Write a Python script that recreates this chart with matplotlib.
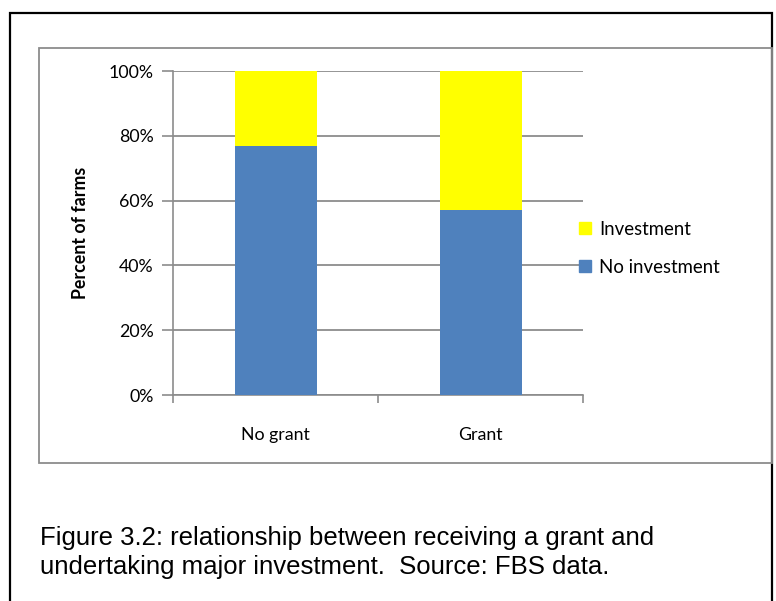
import matplotlib
matplotlib.use("Agg")
import matplotlib.pyplot as plt
from matplotlib.patches import Rectangle, Patch

categories = ["No grant", "Grant"]
no_investment = [0.77, 0.57]
investment = [0.23, 0.43]
yticks = [0, 0.2, 0.4, 0.6, 0.8, 1.0]
ytick_labels = ["0%", "20%", "40%", "60%", "80%", "100%"]

W, H = 776, 601
fig = plt.figure(figsize=(W / 100, H / 100), dpi=100)

def fx(px):
    return px / W

def fy(py):
    return 1 - py / H

# outer black border and inner chart border
fig.add_artist(Rectangle((fx(10), fy(620)), fx(772) - fx(10), fy(13) - fy(620),
                         transform=fig.transFigure, fill=False, edgecolor="black", lw=1.6))
fig.add_artist(Rectangle((fx(39), fy(463)), fx(772) - fx(39), fy(48) - fy(463),
                         transform=fig.transFigure, fill=False, edgecolor="#8c8c8c", lw=1.3))

ax = fig.add_axes([fx(173), fy(395), fx(583) - fx(173), fy(71) - fy(395)])
font = "Lato"
fs = 12.8
grid_c = "#8c8c8c"

x = range(len(categories))
ax.bar(x, no_investment, width=0.4, color="#4F81BD", zorder=3, label="No investment")
ax.bar(x, investment, width=0.4, bottom=no_investment, color="#FFFF00", zorder=3, label="Investment")

ax.set_xlim(-0.5, 1.5)
ax.set_ylim(0, 1.0)
ax.set_yticks(yticks)
ax.set_yticklabels(ytick_labels, fontfamily=font, fontsize=fs)
ax.set_xticks([-0.5, 0.5, 1.5], minor=False)
ax.set_xticklabels([])
ax.set_xticks([0, 1], minor=True)
ax.set_xticklabels(categories, minor=True, fontfamily=font, fontsize=fs)
ax.tick_params(axis="x", which="minor", length=0, pad=23)
ax.tick_params(axis="x", which="major", length=6, color=grid_c, width=1.2)
ax.tick_params(axis="y", length=8, color=grid_c, width=1.2, pad=6)
ax.yaxis.grid(True, color=grid_c, lw=1.3, zorder=0)
for s in ["top", "right"]:
    ax.spines[s].set_visible(False)
for s in ["left", "bottom"]:
    ax.spines[s].set_color(grid_c)
    ax.spines[s].set_linewidth(1.2)
ax.set_axisbelow(True)

fig.text(fx(81), fy(233), "Percent of farms", rotation=90, ha="center", va="center",
         fontfamily=font, fontsize=fs, fontweight="bold")

handles = [Patch(color="#FFFF00"), Patch(color="#4F81BD")]
fig.legend(handles, ["Investment", "No investment"], loc="upper left",
           bbox_to_anchor=(fx(579), fy(221)), frameon=False, borderpad=0, borderaxespad=0,
           handlelength=0.62, handleheight=0.62, handletextpad=0.45, labelspacing=1.12,
           prop={"family": font, "size": 13.4})

fig.text(fx(40), fy(538), "Figure 3.2: relationship between receiving a grant and",
         ha="left", va="center", fontfamily="Liberation Sans", fontsize=18.5)
fig.text(fx(40), fy(567), "undertaking major investment.  Source: FBS data.",
         ha="left", va="center", fontfamily="Liberation Sans", fontsize=18.5)

fig.savefig("out.png", dpi=100)
